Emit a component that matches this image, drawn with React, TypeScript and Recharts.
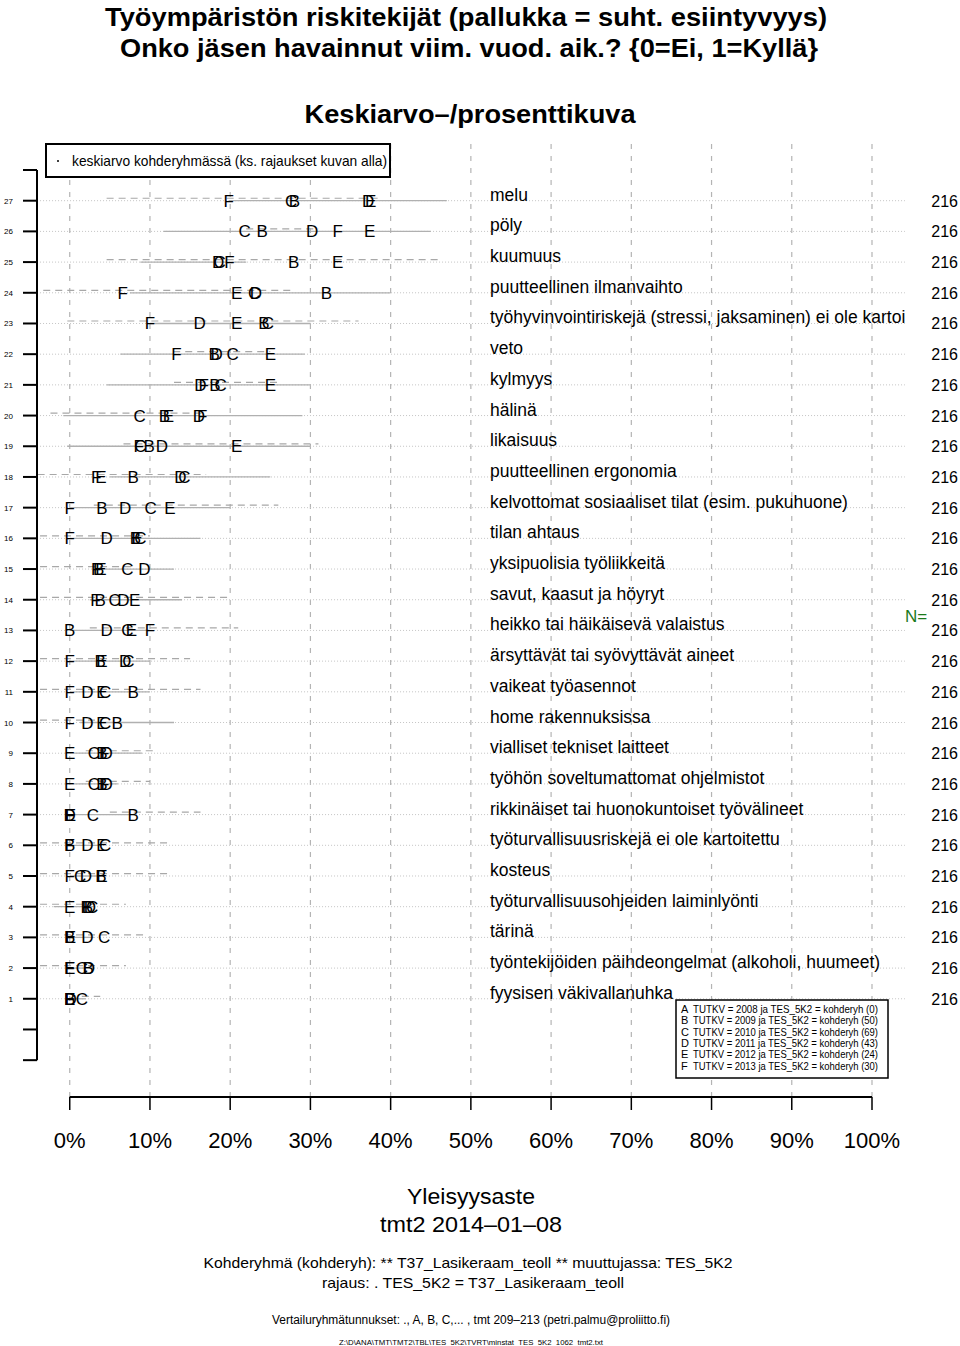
import React from "react";
import { ScatterChart, Scatter, XAxis, YAxis, ReferenceLine } from "recharts";

// rows from top (27) to bottom (1)
const categories = [
  "melu",
  "pöly",
  "kuumuus",
  "puutteellinen ilmanvaihto",
  "työhyvinvointiriskejä (stressi, jaksaminen) ei ole kartoi",
  "veto",
  "kylmyys",
  "hälinä",
  "likaisuus",
  "puutteellinen ergonomia",
  "kelvottomat sosiaaliset tilat (esim. pukuhuone)",
  "tilan ahtaus",
  "yksipuolisia työliikkeitä",
  "savut, kaasut ja höyryt",
  "heikko tai häikäisevä valaistus",
  "ärsyttävät tai syövyttävät aineet",
  "vaikeat työasennot",
  "home rakennuksissa",
  "vialliset tekniset laitteet",
  "työhön soveltumattomat ohjelmistot",
  "rikkinäiset tai huonokuntoiset työvälineet",
  "työturvallisuusriskejä ei ole kartoitettu",
  "kosteus",
  "työturvallisuusohjeiden laiminlyönti",
  "tärinä",
  "työntekijöiden päihdeongelmat (alkoholi, huumeet)",
  "fyysisen väkivallanuhka",
];

const nValues = [
  216, 216, 216, 216, 216, 216, 216, 216, 216, 216, 216, 216, 216, 216,
  216, 216, 216, 216, 216, 216, 216, 216, 216, 216, 216, 216, 216,
];

const groupCodes = ["A", "B", "C", "D", "E", "F"];
const groupYears = [2008, 2009, 2010, 2011, 2012, 2013];
const groupCounts = [0, 50, 69, 43, 24, 30];

// prevalence (%) per comparison group, same row order as categories
const seriesB = [28.0, 24.0, 27.9, 32.0, 24.2, 18.0, 18.1, 11.8, 9.9, 7.9, 4.0, 8.2, 3.6, 3.8, 0, 3.8, 7.9, 5.9, 4.0, 4.0, 7.9, 0, 3.9, 2.2, 0, 2.3, 0];
const seriesC = [27.6, 21.8, 18.7, 23.0, 24.7, 20.3, 18.8, 8.7, 8.8, 14.3, 10.1, 8.8, 7.2, 5.6, 7.2, 7.3, 4.4, 4.4, 3.0, 3.0, 2.9, 4.4, 1.3, 2.8, 4.3, 1.5, 1.5];
const seriesD = [37.2, 30.2, 18.5, 23.2, 16.2, 18.3, 16.3, 16.1, 11.5, 13.8, 6.9, 4.6, 9.3, 6.7, 4.6, 6.9, 2.2, 2.2, 4.6, 4.6, 0, 2.2, 2.0, 2.5, 2.2, 2.4, 0.1];
const seriesE = [37.5, 37.4, 33.4, 20.8, 20.8, 25.0, 25.0, 12.3, 20.8, 3.9, 12.5, 8.4, 3.9, 8.1, 7.7, 4.0, 4.0, 4.0, 0, 0, 0.1, 4.0, 4.0, 0, 0.1, 0, 0];
const seriesF = [19.8, 33.4, 19.9, 6.6, 10.0, 13.3, 16.7, 16.5, 8.6, 3.3, 0, 0, 3.3, 3.2, 10.0, 0, 0, 0, 4.3, 4.3, 0, 0, 0, 2.0, 0, 0, 0];

// grey background ranges per row (%)
const solidFrom = [19.8, 11.7, 8.8, 7.5, 10, 6.3, 4.6, -0.8, -0.3, 5, 0, 0, 3.8, 2.5, 0, 0, 0, 1.3, -0.5, -0.5, -0.5, 0, 0, -2, 0, 0, -0.5];
const solidTo = [47, 45, 22, 40, 30, 29.3, 30, 29, 30, 25, 20, 16.3, 13, 14, 10, 10, 10, 13, 9, 6, 7.5, 4, 4, 3, 3, 3, 2];
const dashFrom = [4.6, 22, 4.6, -3.3, -0.3, 12.9, 13, -2.4, 6.7, -4, 3, -3.7, -3.7, -3.7, 2.5, -3.7, -3.7, -3.7, 2, 2, 5, -3.7, -3.7, -3.7, -3.7, -3.7, 1.5];
const dashTo = [38.7, 31, 46, 27.5, 36, 25, 26, 17, 31, 17, 26, 10, 8, 20, 21, 15, 16.3, 4, 10.7, 10, 16.3, 12.5, 12.5, 7, 9.4, 7, 3.8];

const xTicks = [0, 10, 20, 30, 40, 50, 60, 70, 80, 90, 100];
const yTicks = [-1, 0, 1, 2, 3, 4, 5, 6, 7, 8, 9, 10, 11, 12, 13, 14, 15, 16, 17, 18, 19, 20, 21, 22, 23, 24, 25, 26, 27, 28];

const FONT = "'Liberation Sans', Arial, Helvetica, sans-serif";
const X_MIN = -4.08; // left end, where the y axis line sits
const Y_MIN = -2.2;
const Y_MAX = 28;
const ROW_LINE_START = -3.7;
const ROW_LINE_END = 104.1;

const rowOf = (i: number) => categories.length - i;

const letterShape = (code: string) => (p: any) => (
  <text x={p.cx} y={p.cy + 6} textAnchor="middle" fontSize={17} fontFamily={FONT} fill="#000">
    {code}
  </text>
);

const XTick = ({ x, payload }: any) => (
  <text x={x} y={1148} textAnchor="middle" fontSize={22} fontFamily={FONT} fill="#000">
    {payload.value}%
  </text>
);

const YTick = ({ x, y, payload }: any) => {
  const v = payload.value;
  if (v < 1 || v > categories.length) return <g />;
  const i = categories.length - v;
  return (
    <g>
      <text x={x} y={y + 3} textAnchor="end" fontSize={8} fontFamily={FONT} fill="#000">
        {v}
      </text>
      <text x={490} y={y} fontSize={17.5} fontFamily={FONT} fill="#000">
        {categories[i]}
      </text>
      <text x={958} y={y + 6} textAnchor="end" fontSize={16} fontFamily={FONT} fill="#000">
        {nValues[i]}
      </text>
    </g>
  );
};

const groups = [
  { code: "B", values: seriesB },
  { code: "C", values: seriesC },
  { code: "D", values: seriesD },
  { code: "E", values: seriesE },
  { code: "F", values: seriesF },
];

function T(props: any) {
  const { children, size, bold, ...rest } = props;
  return (
    <text fontSize={size} fontWeight={bold ? "bold" : "normal"} fontFamily={FONT} fill="#000" lengthAdjust="spacingAndGlyphs" {...rest}>
      {children}
    </text>
  );
}

function Overlay() {
  return (
    <svg width={960} height={1346} style={{ position: "absolute", left: 0, top: 0, pointerEvents: "none" }}>
      <T x={466} y={26} size={26} bold textAnchor="middle" textLength={722}>
        Työympäristön riskitekijät (pallukka = suht. esiintyvyys)
      </T>
      <T x={469} y={57} size={26} bold textAnchor="middle" textLength={698}>
        Onko jäsen havainnut viim. vuod. aik.? {"{0=Ei, 1=Kyllä}"}
      </T>
      <T x={470} y={123} size={26} bold textAnchor="middle" textLength={331}>
        Keskiarvo–/prosenttikuva
      </T>

      <rect x={46} y={144} width={344} height={33} fill="#fff" stroke="#000" strokeWidth={2} />
      <circle cx={58} cy={161} r={1} fill="#000" />
      <T x={72} y={166} size={15} textLength={315}>
        keskiarvo kohderyhmässä (ks. rajaukset kuvan alla)
      </T>

      <rect x={676} y={1000} width={212} height={78} fill="#fff" stroke="#000" strokeWidth={1.5} />
      {groupCodes.map((c, i) => (
        <g key={c}>
          <T x={681} y={1013 + i * 11.3} size={11}>
            {c}
          </T>
          <T x={693} y={1013 + i * 11.3} size={11} textLength={185}>
            {`TUTKV = ${groupYears[i]} ja TES_5K2 = kohderyh (${groupCounts[i]})`}
          </T>
        </g>
      ))}

      <text x={905} y={622} fontSize={17} fontFamily={FONT} fill="#1b7a1b">
        N=
      </text>

      <T x={471} y={1204} size={22} textAnchor="middle" textLength={128}>
        Yleisyysaste
      </T>
      <T x={471} y={1232} size={22} textAnchor="middle" textLength={182}>
        tmt2 2014–01–08
      </T>
      <T x={468} y={1268} size={15} textAnchor="middle" textLength={529}>
        Kohderyhmä (kohderyh): ** T37_Lasikeraam_teoll ** muuttujassa:  TES_5K2
      </T>
      <T x={473} y={1288} size={15} textAnchor="middle" textLength={302}>
        rajaus:  . TES_5K2 = T37_Lasikeraam_teoll
      </T>
      <T x={471} y={1324} size={12} textAnchor="middle" textLength={398}>
        Vertailuryhmätunnukset: ., A, B, C,...   , tmt 209–213 (petri.palmu@proliitto.fi)
      </T>
      <T x={471} y={1345} size={8} textAnchor="middle" textLength={264}>
        Z:\D\ANA\TMT\TMT2\TBL\TES_5K2\TVRT\minstat_TES_5K2_1062_tmt2.txt
      </T>
    </svg>
  );
}

export default function App() {
  return (
    <div style={{ position: "absolute", left: 0, top: 0, width: 960, height: 1346, background: "#fff" }}>
      <ScatterChart width={960} height={1346} margin={{ top: 170, right: 88, bottom: 200, left: 23 }}>
        <XAxis
          type="number"
          dataKey="x"
          domain={[X_MIN, 100]}
          ticks={xTicks}
          interval={0}
          allowDataOverflow
          axisLine={false}
          tickSize={13}
          tickLine={{ stroke: "#000", strokeWidth: 1.5 }}
          tick={<XTick />}
          height={49}
        />
        <YAxis
          type="number"
          dataKey="y"
          domain={[Y_MIN, Y_MAX]}
          ticks={yTicks}
          interval={0}
          allowDataOverflow
          axisLine={false}
          width={14}
          tickSize={14}
          tickMargin={10}
          tickLine={{ stroke: "#000", strokeWidth: 2 }}
          tick={<YTick />}
        />

        {/* vertical dashed grid */}
        {xTicks.map((t) => (
          <ReferenceLine
            key={`vx${t}`}
            segment={[{ x: t, y: Y_MIN }, { x: t, y: 29 }]}
            ifOverflow="visible"
            stroke="#b4b4b4"
            strokeWidth={1.2}
            strokeDasharray="5 7"
          />
        ))}

        {/* row lines */}
        {categories.map((c, i) => (
          <ReferenceLine
            key={`dot${i}`}
            segment={[{ x: ROW_LINE_START, y: rowOf(i) }, { x: ROW_LINE_END, y: rowOf(i) }]}
            ifOverflow="visible"
            stroke="#c4c4c4"
            strokeWidth={1}
            strokeDasharray="1 2"
          />
        ))}
        {categories.map((c, i) => (
          <ReferenceLine
            key={`sol${i}`}
            segment={[{ x: solidFrom[i], y: rowOf(i) }, { x: solidTo[i], y: rowOf(i) }]}
            ifOverflow="visible"
            stroke="#b0b0b0"
            strokeWidth={1.3}
          />
        ))}
        {categories.map((c, i) => (
          <ReferenceLine
            key={`das${i}`}
            segment={[{ x: dashFrom[i], y: rowOf(i) + 0.08 }, { x: dashTo[i], y: rowOf(i) + 0.08 }]}
            ifOverflow="visible"
            stroke="#a8a8a8"
            strokeWidth={1.2}
            strokeDasharray="7 5"
          />
        ))}

        {/* axes lines */}
        <ReferenceLine
          segment={[{ x: 0, y: Y_MIN }, { x: 100, y: Y_MIN }]}
          ifOverflow="visible"
          stroke="#000"
          strokeWidth={2}
        />
        <ReferenceLine
          segment={[{ x: X_MIN, y: -1 }, { x: X_MIN, y: 28 }]}
          ifOverflow="visible"
          stroke="#000"
          strokeWidth={2}
        />

        {groups.map((g) => (
          <Scatter
            key={g.code}
            name={g.code}
            data={g.values.map((v, i) => ({ x: v, y: rowOf(i) }))}
            shape={letterShape(g.code)}
            isAnimationActive={false}
          />
        ))}
      </ScatterChart>
      <Overlay />
    </div>
  );
}
